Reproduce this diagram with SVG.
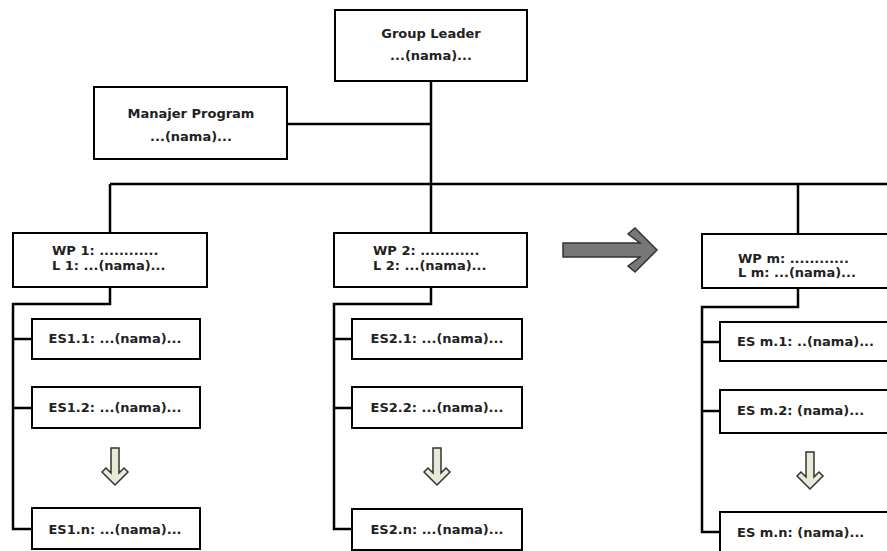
<svg xmlns="http://www.w3.org/2000/svg" width="887" height="551" viewBox="0 0 887 551">
<style>
.box{fill:#fff;stroke:#000;stroke-width:2}
.ln{fill:none;stroke:#000;stroke-width:2.5}
.t{font-family:"DejaVu Sans",Verdana,sans-serif;font-size:13px;font-weight:bold;fill:#222}
.m{text-anchor:middle}
.dn{fill:#e6ead6;stroke:#333;stroke-width:1.5;stroke-linejoin:miter}
.rt{fill:#777;stroke:#333;stroke-width:1.5}
</style>
<defs>
<polygon id="down" class="dn" points="-4,0 4,0 4,25 9,20 13,24 0,37 -13,24 -9,20 -4,25"/>
</defs>
<rect width="887" height="551" fill="#fff"/>
<g id="connectors">
<path class="ln" d="M431,81V184M287,124H431M110,184H887M110,184V233M431,184V233M798,184V234"/>
<path class="ln" d="M110,287V304H13V529H32M13,339H32M13,408H32"/>
<path class="ln" d="M431,287V304H334V529H352M334,339H352M334,408H352"/>
<path class="ln" d="M798,288V307H702V532H720M702,342H720M702,411H720"/>
</g>
<g id="group-leader">
<rect class="box" x="335" y="10" width="192" height="71"/>
<text class="t m" x="431" y="38">Group Leader</text>
<text class="t m" x="431" y="60">...(nama)...</text>
</g>
<g id="manajer-program">
<rect class="box" x="94" y="87" width="193" height="72"/>
<text class="t m" x="191" y="118">Manajer Program</text>
<text class="t m" x="191" y="141">...(nama)...</text>
</g>
<g id="wp1">
<rect class="box" x="13" y="233" width="194" height="54"/>
<text class="t" x="52" y="255">WP 1: ............</text>
<text class="t" x="52" y="270">L 1: ...(nama)...</text>
</g>
<g id="wp2">
<rect class="box" x="334" y="233" width="193" height="54"/>
<text class="t" x="373" y="255">WP 2: ............</text>
<text class="t" x="373" y="270">L 2: ...(nama)...</text>
</g>
<g id="wpm">
<rect class="box" x="702" y="234" width="200" height="54"/>
<text class="t" x="738" y="263">WP m: ............</text>
<text class="t" x="738" y="277">L m: ...(nama)...</text>
</g>
<g id="es1-1"><rect class="box" x="32" y="319" width="168" height="40"/><text class="t m" x="115" y="343">ES1.1: ...(nama)...</text></g>
<g id="es1-2"><rect class="box" x="32" y="387" width="168" height="41"/><text class="t m" x="115" y="412">ES1.2: ...(nama)...</text></g>
<g id="es1-n"><rect class="box" x="32" y="508" width="168" height="41"/><text class="t m" x="115" y="534">ES1.n: ...(nama)...</text></g>
<g id="es2-1"><rect class="box" x="352" y="319" width="170" height="40"/><text class="t m" x="437" y="343">ES2.1: ...(nama)...</text></g>
<g id="es2-2"><rect class="box" x="352" y="387" width="170" height="41"/><text class="t m" x="437" y="412">ES2.2: ...(nama)...</text></g>
<g id="es2-n"><rect class="box" x="352" y="509" width="170" height="41"/><text class="t m" x="437" y="534">ES2.n: ...(nama)...</text></g>
<g id="esm-1"><rect class="box" x="720" y="322" width="200" height="39"/><text class="t" x="737" y="346">ES m.1: ..(nama)...</text></g>
<g id="esm-2"><rect class="box" x="720" y="390" width="200" height="43"/><text class="t" x="737" y="415">ES m.2: (nama)...</text></g>
<g id="esm-n"><rect class="box" x="720" y="512" width="200" height="60"/><text class="t" x="737" y="537">ES m.n: (nama)...</text></g>
<g id="arrows">
<use href="#down" x="115" y="448"/>
<use href="#down" x="437" y="448"/>
<use href="#down" x="810" y="452"/>
<polygon class="rt" points="563,243 640,243 628,234 635,228 657,250 635,272 628,266 640,257 563,257"/>
</g>
</svg>
